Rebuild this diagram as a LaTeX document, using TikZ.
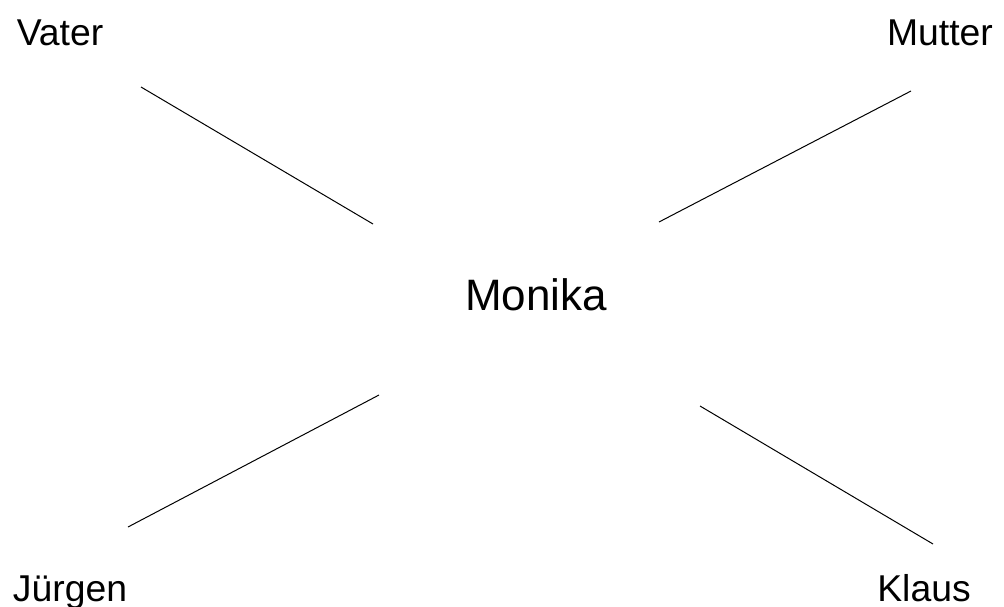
\documentclass[tikz,border=0pt]{standalone}
\usepackage{fontspec}
\setmainfont{Liberation Sans}
\begin{document}
\begin{tikzpicture}[x=0.75pt, y=-0.75pt,
			person/.style={anchor=base, inner sep=0pt, font=\fontsize{28}{34}\selectfont},
			child/.style={person, font=\fontsize{33}{40}\selectfont},
			link/.style={line width=0.75pt}]

		\useasboundingbox (0, 0) rectangle (1004, 607);

		\node[person] (vater) at (60, 45) {Vater};
		\node[person] (mutter) at (940, 45) {Mutter};
		\node[child] (monika) at (536, 310) {Monika};
		\node[person] (juergen) at (70, 601) {Jürgen};
		\node[person] (klaus) at (924, 601) {Klaus};

		\coordinate (v1) at (141, 87);
		\coordinate (v2) at (373, 224);
		\coordinate (m1) at (911, 91);
		\coordinate (m2) at (659, 222);
		\coordinate (j1) at (379, 395);
		\coordinate (j2) at (128, 527);
		\coordinate (k1) at (700, 406);
		\coordinate (k2) at (933, 544);

		\draw[link] (v1) -- (v2);
		\draw[link] (m1) -- (m2);
		\draw[link] (j1) -- (j2);
		\draw[link] (k1) -- (k2);
	\end{tikzpicture}
\end{document}
